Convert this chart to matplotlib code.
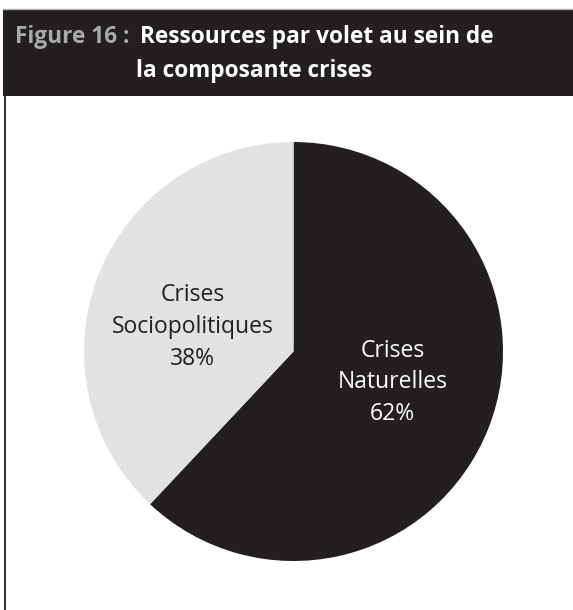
import matplotlib.pyplot as plt
from matplotlib.patches import Rectangle
from matplotlib.lines import Line2D

W, H = 573, 610

# data
volets = ["Crises\nNaturelles", "Crises\nSociopolitiques"]
parts = [62, 38]
colours = ["#231f20", "#e1e2e3"]
text_colours = ["white", "#231f20"]

fig = plt.figure(figsize=(W / 100, H / 100), dpi=100)
fig.patch.set_facecolor("white")

# header bar
fig.add_artist(Line2D([3 / W, 1], [1 - 8.5 / H, 1 - 8.5 / H], color="#b0b0b0", lw=1))
fig.add_artist(Rectangle((3 / W, 1 - 96 / H), 1 - 3 / W, 86 / H,
                         transform=fig.transFigure, facecolor="#231f20", edgecolor="none"))
fig.add_artist(Line2D([4.5 / W, 4.5 / W], [0, 1 - 96 / H], color="#231f20", lw=1.3))

title_kw = dict(fontsize=16.3, fontweight="bold", family="Open Sans", va="center")
fig.text(15 / W, 1 - 37 / H, "Figure 16 :", color="#a7a9ac", ha="left", **title_kw)
fig.text(140 / W, 1 - 37 / H, "Ressources par volet au sein de", color="white",
         ha="left", **title_kw)
fig.text(136 / W, 1 - 71 / H, "la composante crises", color="white", ha="left",
         **title_kw)

# pie
cx, cy, r = 293.5, 351.5, 209.5
ax = fig.add_axes([(cx - r) / W, (H - cy - r) / H, 2 * r / W, 2 * r / H])
ax.pie(parts, colors=colours, startangle=90, counterclock=False, radius=1,
       wedgeprops=dict(linewidth=0))
ax.set_xlim(-1, 1)
ax.set_ylim(-1, 1)
ax.set_aspect("equal")
ax.axis("off")

label_pos = [(0.473, -0.146), (-0.483, 0.117)]
for name, p, (x, y), tc in zip(volets, parts, label_pos, text_colours):
    ax.text(x, y, f"{name}\n{p}%", color=tc, fontsize=16.5, family="Open Sans",
            ha="center", va="center", linespacing=1.42)

fig.savefig("out.png", dpi=100)
